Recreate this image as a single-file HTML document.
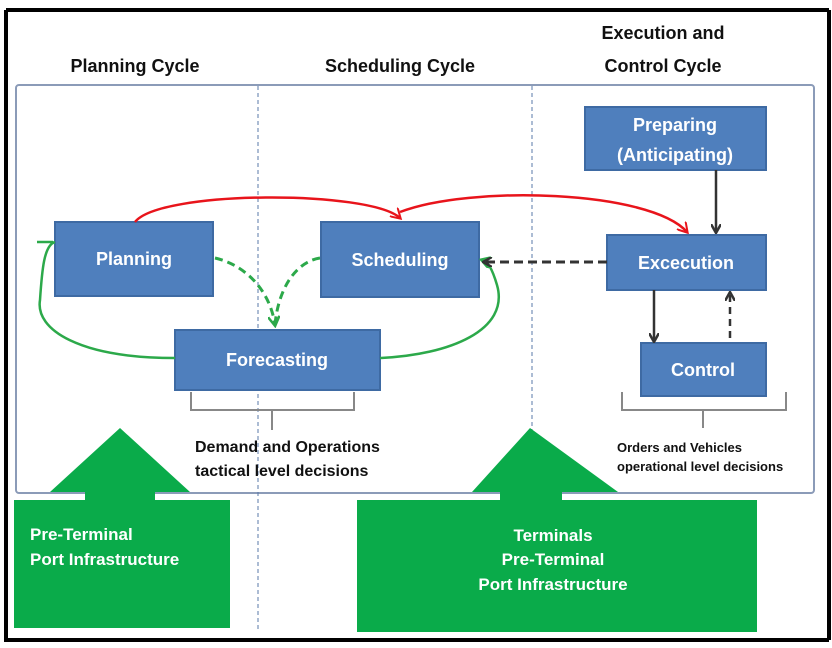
<!DOCTYPE html>
<html><head><style>
html,body{margin:0;padding:0;background:#fff;}
svg{display:block;}
text{font-family:"Liberation Sans",sans-serif;}
</style></head><body>
<svg width="832" height="648" viewBox="0 0 832 648" xmlns="http://www.w3.org/2000/svg">
<defs>
<marker id="ab" markerWidth="10" markerHeight="10" refX="8" refY="5" orient="auto" markerUnits="userSpaceOnUse"><path d="M0,0 L9,5 L0,10" fill="none" stroke="#333" stroke-width="2.5"/></marker>
<marker id="ag" markerWidth="12" markerHeight="12" refX="9" refY="6" orient="auto" markerUnits="userSpaceOnUse"><path d="M0,0 L10,6 L0,12" fill="none" stroke="#2ca94a" stroke-width="2.5"/></marker>
<marker id="ar" markerWidth="12" markerHeight="12" refX="9" refY="6" orient="auto" markerUnits="userSpaceOnUse"><path d="M0,0 L10,6 L0,12" fill="none" stroke="#e8141b" stroke-width="2"/></marker>
</defs>
<rect x="0" y="0" width="832" height="648" fill="#fff"/>
<!-- outer frame -->
<path d="M6,10 H829 M6,10 V640 H829 M829,10 V640" stroke="#000" stroke-width="4" fill="none"/>
<!-- inner box -->
<rect x="16" y="85" width="798" height="408" rx="3" fill="#fff" stroke="#8b9bb8" stroke-width="2"/>
<!-- dividers -->
<line x1="258" y1="86" x2="258" y2="632" stroke="#5a78a8" stroke-width="1" stroke-dasharray="4,3"/>
<line x1="532" y1="86" x2="532" y2="500" stroke="#5a78a8" stroke-width="1" stroke-dasharray="4,3"/>
<!-- headers -->
<g font-weight="bold" font-size="18" fill="#111" text-anchor="middle">
<text x="135" y="72">Planning Cycle</text>
<text x="400" y="72">Scheduling Cycle</text>
<text x="663" y="39">Execution and</text>
<text x="663" y="72">Control  Cycle</text>
</g>
<!-- green big arrows -->
<g fill="#0aab4a">
<polygon points="120,428 190,492 155,492 155,502 85,502 85,492 50,492"/>
<rect x="14" y="500" width="216" height="128"/>
<polygon points="530,428 618,492 562,492 562,502 500,502 500,492 472,492"/>
<rect x="357" y="500" width="400" height="132"/>
</g>
<g fill="#fff" font-weight="bold" font-size="17">
<text x="30" y="540">Pre-Terminal</text>
<text x="30" y="565">Port Infrastructure</text>
<g text-anchor="middle">
<text x="553" y="541">Terminals</text>
<text x="553" y="565">Pre-Terminal</text>
<text x="553" y="590">Port Infrastructure</text>
</g>
</g>
<!-- boxes -->
<g fill="#4f7fbd" stroke="#3e6aa3" stroke-width="2">
<rect x="585" y="107" width="181" height="63"/>
<rect x="55" y="222" width="158" height="74"/>
<rect x="321" y="222" width="158" height="75"/>
<rect x="607" y="235" width="159" height="55"/>
<rect x="175" y="330" width="205" height="60"/>
<rect x="641" y="343" width="125" height="53"/>
</g>
<g fill="#fff" font-weight="bold" font-size="18" text-anchor="middle">
<text x="675" y="131">Preparing</text>
<text x="675" y="161">(Anticipating)</text>
<text x="134" y="265">Planning</text>
<text x="400" y="266">Scheduling</text>
<text x="686" y="269">Excecution</text>
<text x="277" y="366">Forecasting</text>
<text x="703" y="376">Control</text>
</g>
<!-- red curve -->
<path d="M135,222 C160,190 370,190 400,218" fill="none" stroke="#e8141b" stroke-width="2.5" marker-end="url(#ar)"/>
<path d="M400,212 C470,185 650,190 687,232" fill="none" stroke="#e8141b" stroke-width="2.5" marker-end="url(#ar)"/>
<!-- green loops -->
<path d="M175,358 C80,358 35,330 40,300 C42,270 44,245 55,242" fill="none" stroke="#2ca94a" stroke-width="2.5"/>
<line x1="37" y1="242" x2="53" y2="242" stroke="#2ca94a" stroke-width="2.5"/>
<path d="M380,358 C450,355 510,330 497,285 C492,268 488,262 482,260" fill="none" stroke="#2ca94a" stroke-width="2.5" marker-end="url(#ag)"/>
<path d="M215,258 C245,265 270,290 275,325" fill="none" stroke="#2ca94a" stroke-width="3" stroke-dasharray="8,5" marker-end="url(#ag)"/>
<path d="M320,258 C295,262 278,290 275,325" fill="none" stroke="#2ca94a" stroke-width="3" stroke-dasharray="8,5"/>
<!-- black connectors -->
<line x1="607" y1="262" x2="484" y2="262" stroke="#333" stroke-width="3" stroke-dasharray="9,5" marker-end="url(#ab)"/>
<line x1="716" y1="170" x2="716" y2="232" stroke="#333" stroke-width="2.5" marker-end="url(#ab)"/>
<line x1="654" y1="290" x2="654" y2="341" stroke="#333" stroke-width="2.5" marker-end="url(#ab)"/>
<line x1="730" y1="338" x2="730" y2="293" stroke="#333" stroke-width="2.5" stroke-dasharray="7,5" marker-end="url(#ab)"/>
<!-- braces -->
<path d="M191,392 V410 H354 V392 M272,410 V430" fill="none" stroke="#888" stroke-width="2"/>
<path d="M622,392 V410 H786 V392 M703,410 V428" fill="none" stroke="#888" stroke-width="2"/>
<g font-weight="bold" fill="#111">
<text x="195" y="452" font-size="16">Demand and Operations</text>
<text x="195" y="476" font-size="16">tactical level decisions</text>
<text x="617" y="452" font-size="13">Orders and Vehicles</text>
<text x="617" y="471" font-size="13">operational level decisions</text>
</g>
</svg>
</body></html>
